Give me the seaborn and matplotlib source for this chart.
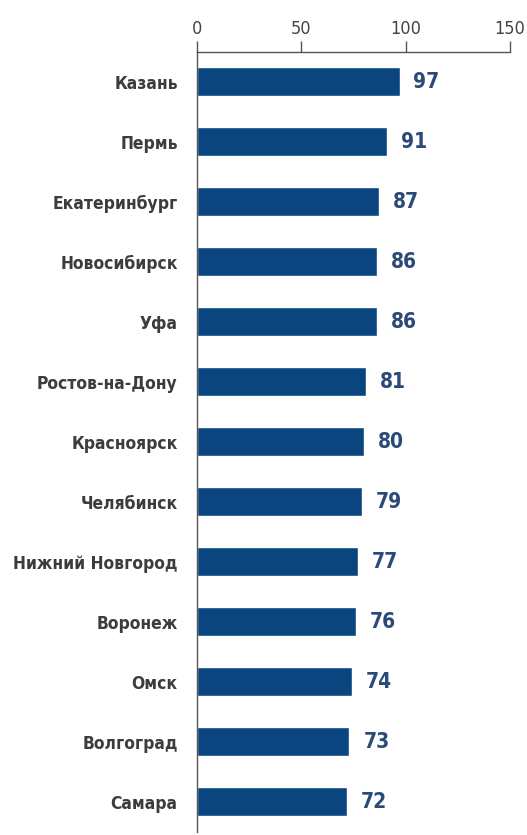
import numpy as np
import pandas as pd
import matplotlib
matplotlib.use("Agg")
import matplotlib.pyplot as plt
import seaborn as sns

cities = ["Казань", "Пермь", "Екатеринбург", "Новосибирск", "Уфа",
          "Ростов-на-Дону", "Красноярск", "Челябинск", "Нижний Новгород",
          "Воронеж", "Омск", "Волгоград", "Самара"]
values = [97, 91, 87, 86, 86, 81, 80, 79, 77, 76, 74, 73, 72]
x_ticks = [0, 50, 100, 150]

df = pd.DataFrame({"city": cities, "value": values})

sns.set_style("white")
plt.rcParams["font.family"] = ["DejaVu Sans"]
plt.rcParams["font.stretch"] = "condensed"

fig = plt.figure(figsize=(5.27, 8.35), dpi=100)
ax = fig.add_axes([0.374, 0.004, 0.594, 0.934])

bar_color = "#0b4580"
sns.barplot(data=df, x="value", y="city", orient="h", color=bar_color,
            saturation=1, width=0.49, ax=ax)

ax.set_xlim(0, 150)
ax.set_ylim(12.5, -0.5)
ax.set_xlabel("")
ax.set_ylabel("")

# value axis on top
ax.xaxis.tick_top()
ax.set_xticks(x_ticks)
ax.set_xticklabels([str(t) for t in x_ticks])
ax.tick_params(axis="x", which="major", direction="out", length=8, width=1,
               color="#555555", labelsize=13, labelcolor="#444444", pad=2)

# category axis: labels without ticks, small inward marks between bars
ax.tick_params(axis="y", which="major", length=0, pad=14,
               labelsize=12.5, labelcolor="#3c3c3c")
for lbl in ax.get_yticklabels():
    lbl.set_fontweight("bold")
ax.set_yticks(np.arange(0.5, len(cities) - 0.5, 1), minor=True)
ax.tick_params(axis="y", which="minor", direction="in", length=6, width=1,
               color="#555555")

for side in ["right", "bottom"]:
    ax.spines[side].set_visible(False)
for side in ["top", "left"]:
    ax.spines[side].set_color("#555555")
    ax.spines[side].set_linewidth(1)

ax.bar_label(ax.containers[0], labels=[str(v) for v in values], padding=10,
             fontsize=15, fontweight="bold", color="#2b4a78")

fig.savefig("out.png", dpi=100)
